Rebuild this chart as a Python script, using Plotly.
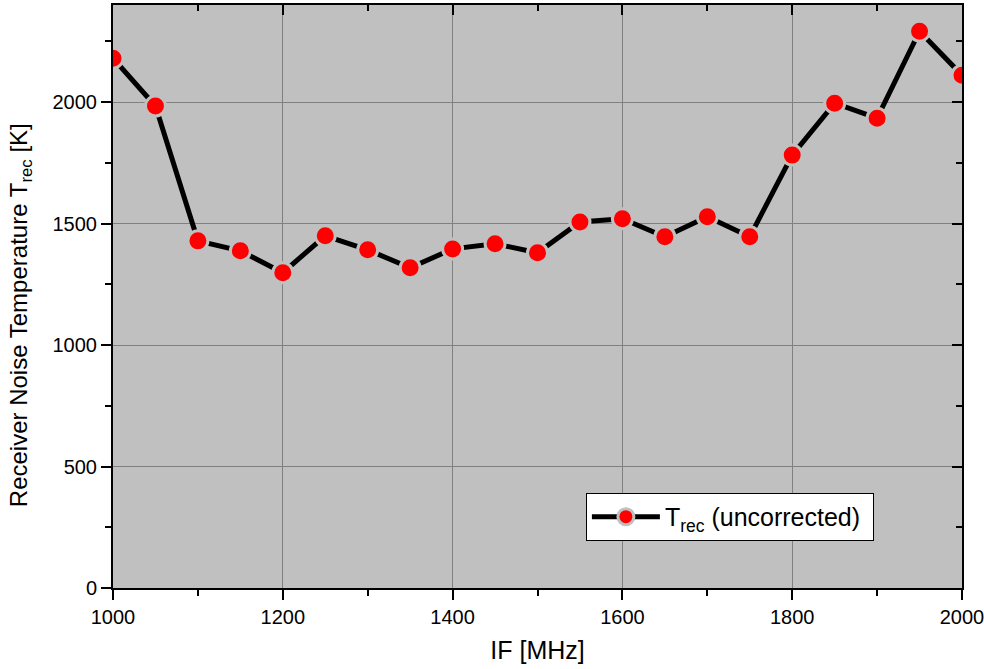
import plotly.graph_objects as go

# IF frequency sweep and receiver noise temperature
if_mhz = [1000, 1050, 1100, 1150, 1200, 1250, 1300, 1350, 1400, 1450, 1500,
          1550, 1600, 1650, 1700, 1750, 1800, 1850, 1900, 1950, 2000]
t_rec = [2181, 1984, 1429, 1388, 1298, 1450, 1392, 1318, 1396, 1417, 1380,
         1507, 1520, 1446, 1528, 1446, 1782, 1996, 1934, 2292, 2111]

x_range = [1000, 2000]
y_range = [0, 2400]
bg = "#c0c0c0"
font = "Liberation Sans, Arial, sans-serif"

fig = go.Figure()
fig.add_trace(go.Scatter(
    x=if_mhz, y=t_rec, mode="lines+markers",
    name="T<sub>rec</sub> (uncorrected)&nbsp;",
    line=dict(color="black", width=5),
    marker=dict(color="#ff0000", size=20, line=dict(color=bg, width=3)),
    cliponaxis=True,
))
# helper trace binding the mirrored top/right axes
fig.add_trace(go.Scatter(x=x_range, y=y_range, xaxis="x2", yaxis="y2",
                         mode="markers", marker=dict(opacity=0),
                         showlegend=False, hoverinfo="skip"))

tickfont = dict(family=font, size=20, color="black")
fig.update_layout(
    width=984, height=669,
    margin=dict(l=113, r=22, t=5, b=81, autoexpand=False),
    paper_bgcolor="white", plot_bgcolor=bg,
    font=dict(family=font, color="black"),
    xaxis=dict(range=x_range, dtick=200, tick0=1000, showline=True,
               linecolor="black", linewidth=2, ticks="outside", ticklen=10,
               tickwidth=2, tickcolor="black", tickfont=tickfont,
               ticklabeloverflow="allow", automargin=False,
               showgrid=True, gridcolor="#808080", gridwidth=1, zeroline=False,
               minor=dict(dtick=100, ticks="outside", ticklen=6, tickwidth=2,
                          tickcolor="black", showgrid=False),
               title=dict(text="IF [MHz]", font=dict(family=font, size=25),
                          standoff=14)),
    yaxis=dict(range=y_range, dtick=500, tick0=0, showline=True,
               linecolor="black", linewidth=2, ticks="outside", ticklen=10,
               tickwidth=2, tickcolor="black", tickfont=tickfont,
               ticklabeloverflow="allow", automargin=False,
               showgrid=True, gridcolor="#808080", gridwidth=1, zeroline=False,
               minor=dict(dtick=250, ticks="outside", ticklen=6, tickwidth=2,
                          tickcolor="black", showgrid=False)),
    xaxis2=dict(range=x_range, overlaying="x", side="top", anchor="y2",
                dtick=200, tick0=1000, showline=True, linecolor="black",
                linewidth=2, ticks="inside", ticklen=10, tickwidth=2,
                tickcolor="black", showticklabels=False, showgrid=False,
                zeroline=False, automargin=False,
                minor=dict(dtick=100, ticks="inside", ticklen=6, tickwidth=2,
                           tickcolor="black")),
    yaxis2=dict(range=y_range, overlaying="y", side="right", anchor="x2",
                dtick=500, tick0=0, showline=True, linecolor="black",
                linewidth=2, ticks="inside", ticklen=10, tickwidth=2,
                tickcolor="black", showticklabels=False, showgrid=False,
                zeroline=False, automargin=False,
                minor=dict(dtick=250, ticks="inside", ticklen=6, tickwidth=2,
                           tickcolor="black")),
    legend=dict(x=0.557, y=0.163, xanchor="left", yanchor="top",
                bgcolor="white", bordercolor="black", borderwidth=1,
                font=dict(family=font, size=25), itemwidth=68),
    showlegend=True,
)

# y-axis title placed as a rotated annotation
fig.add_annotation(
    text="Receiver Noise Temperature T<sub>rec</sub> [K]",
    xref="paper", yref="paper", x=-0.1095, y=0.468,
    xanchor="center", yanchor="middle", textangle=-90, showarrow=False,
    font=dict(family=font, size=24, color="black"),
)

fig.write_html("out.html")
